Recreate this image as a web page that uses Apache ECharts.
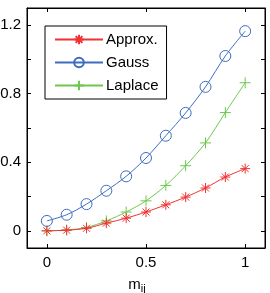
<!DOCTYPE html>
<html>
<head>
<meta charset="utf-8">
<script src="https://cdn.jsdelivr.net/npm/echarts@6/dist/echarts.min.js"></script>
<style>html,body{margin:0;padding:0;background:#fff;}#c{width:270px;height:293px;}</style>
</head>
<body>
<div id="c"></div>
<script>
var xValues = [0, 0.1, 0.2, 0.3, 0.4, 0.5, 0.6, 0.7, 0.8, 0.9, 1.0];
var approx  = [0, 0.004, 0.015, 0.045, 0.074, 0.11, 0.152, 0.197, 0.25, 0.314, 0.363];
var gauss   = [0.058, 0.094, 0.156, 0.234, 0.318, 0.425, 0.555, 0.688, 0.84, 1.02, 1.165];
var laplace = [0, 0.005, 0.02, 0.058, 0.11, 0.175, 0.265, 0.38, 0.513, 0.69, 0.864];
var seriesNames = ['Approx.', 'Gauss', 'Laplace'];
var xTicks = [0, 0.5, 1];
var yTicks = [0, 0.2, 0.4, 0.6, 0.8, 1.0, 1.2];
var yLabels = [0, 0.4, 0.8, 1.2];

var FONT = 'Liberation Sans';
var asterisk = 'path://M5,0 L5,10 M0,5 L10,5 M1.5,1.5 L8.5,8.5 M8.5,1.5 L1.5,8.5';
var plus = 'path://M5,0 L5,10 M0,5 L10,5';

function pairs(ys){ return xValues.map(function(x,i){ return [x, ys[i]]; }); }

var colors = ['#f03232', '#3d6cc0', '#6cc94c'];
var symbols = [asterisk, 'circle', plus];
var sizes = [10, 11, 11];
var datas = [approx, gauss, laplace];

var series = datas.map(function(d, i){
  return {
    name: seriesNames[i], type: 'line', data: pairs(d), smooth: 0.3,
    symbol: symbols[i], symbolSize: sizes[i],
    lineStyle: {color: colors[i], width: 1},
    itemStyle: {color: 'rgba(0,0,0,0)', borderColor: colors[i], borderWidth: 1},
    z: 3 - i
  };
});

var chart = echarts.init(document.getElementById('c'));
chart.setOption({
  animation: false,
  grid: {left: 27, top: 8, right: 5, bottom: 45, outerBoundsMode: 'none', containLabel: false,
    show: true, borderColor: '#000', borderWidth: 1, backgroundColor: 'transparent'},
  legend: {
    orient: 'vertical', left: 45, top: 26,
    data: seriesNames,
    itemWidth: 48, itemHeight: 12, itemGap: 8,
    padding: [6, 8, 6, 9],
    borderColor: '#000', borderWidth: 1, backgroundColor: '#fff',
    textStyle: {fontFamily: FONT, fontSize: 15, color: '#000', padding: [0,0,0,-2]}
  },
  xAxis: [{
    type: 'value', min: -0.1, max: 1.1,
    axisLine: {show: true, onZero: false, lineStyle: {color: '#000', width: 1}},
    axisTick: {show: true, inside: true, length: 4, customValues: xTicks, lineStyle: {color: '#000'}},
    axisLabel: {customValues: xTicks, fontFamily: FONT, fontSize: 15, color: '#000', margin: 7,
      formatter: function(v){ return String(v); }},
    splitLine: {show: false},
    name: '{m|m}{s|ij}', nameLocation: 'middle', nameGap: 27,
    nameTextStyle: {rich: {
      m: {fontFamily: FONT, fontSize: 15, color: '#000', padding: [0,0,0,0]},
      s: {fontFamily: FONT, fontSize: 11, color: '#000', padding: [8,18,0,0]}
    }}
  }, {
    type: 'value', position: 'top', min: -0.1, max: 1.1,
    axisLine: {show: true, onZero: false, lineStyle: {color: '#000'}},
    axisTick: {show: true, inside: true, length: 4, customValues: xTicks, lineStyle: {color: '#000'}},
    axisLabel: {show: false}, splitLine: {show: false}
  }],
  yAxis: [{
    type: 'value', min: -0.1, max: 1.3,
    axisLine: {show: true, onZero: false, lineStyle: {color: '#000'}},
    axisTick: {show: true, inside: true, length: 4, customValues: yTicks, lineStyle: {color: '#000'}},
    axisLabel: {customValues: yLabels, fontFamily: FONT, fontSize: 15, color: '#000', margin: 6,
      formatter: function(v){ return String(v); }},
    splitLine: {show: false}
  }, {
    type: 'value', position: 'right', min: -0.1, max: 1.3,
    axisLine: {show: true, onZero: false, lineStyle: {color: '#000'}},
    axisTick: {show: true, inside: true, length: 4, customValues: yTicks, lineStyle: {color: '#000'}},
    axisLabel: {show: false}, splitLine: {show: false}
  }],
  series: series
});
</script>
</body>
</html>
